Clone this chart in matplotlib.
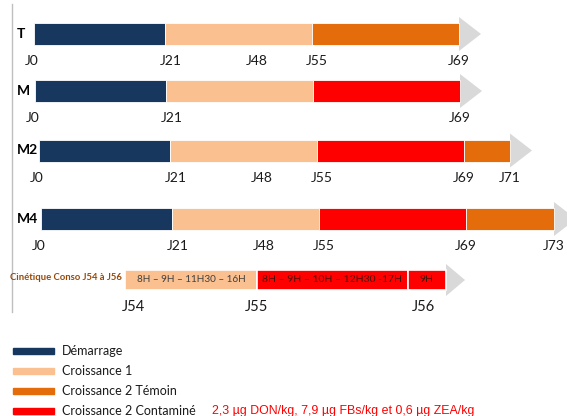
import numpy as np
import matplotlib
matplotlib.use('Agg')
import matplotlib.pyplot as plt
import matplotlib.transforms as mtransforms
from matplotlib.patches import Rectangle

# phases and their colours
phases = ['Démarrage', 'Croissance 1', 'Croissance 2 Témoin', 'Croissance 2 Contaminé']
phase_colors = ['#17375e', '#fac090', '#e46c0a', '#ff0000']

# one row per batch: day boundaries, phase of each segment, day labels
rows = ['T', 'M', 'M2', 'M4']
row_days = [[0, 21, 55, 69], [0, 21, 55, 69], [0, 21, 55, 69, 71], [0, 21, 55, 69, 73]]
row_phases = [
    ['Démarrage', 'Croissance 1', 'Croissance 2 Témoin'],
    ['Démarrage', 'Croissance 1', 'Croissance 2 Contaminé'],
    ['Démarrage', 'Croissance 1', 'Croissance 2 Contaminé', 'Croissance 2 Témoin'],
    ['Démarrage', 'Croissance 1', 'Croissance 2 Contaminé', 'Croissance 2 Témoin'],
]
row_ticks = [[0, 21, 48, 55, 69], [0, 21, 69], [0, 21, 48, 55, 69, 71], [0, 21, 48, 55, 69, 73]]

# consumption kinetics J54 -> J56
kin_days = [54, 55, 56, 56.25]
kin_phases = ['Croissance 1', 'Croissance 2 Contaminé', 'Croissance 2 Contaminé']
kin_hours = ['8H – 9H – 11H30 – 16H', '8H – 9H – 10H – 12H30 -17H', '9H']
kin_ticks = [54, 55, 56]
kin_title = 'Cinétique Conso J54 à J56'
dose_note = '2,3 µg DON/kg, 7,9 µg FBs/kg et 0,6 µg ZEA/kg'

color_of = dict(zip(phases, phase_colors))
W, H = 567, 416
FONT = 'Lato'
TXT = '#1a1a1a'

# schematic (non linear) day axis
day_anchor = [-5, 0, 21, 48, 55, 69, 71, 73, 76]
px_anchor = [0, 34, 165, 257, 312, 459, 505, 547, 567]
kin_anchor = [52, 54, 55, 56, 56.25, 58]
kin_px = [0, 125, 257, 408, 446, 567]


def make_scale(d, p):
    def fwd(x):
        return np.interp(x, d, p)

    def inv(x):
        return np.interp(x, p, d)
    return fwd, inv


fig = plt.figure(figsize=(W / 100, H / 100), dpi=100)
fig.patch.set_facecolor('white')

ax_px = fig.add_axes([0, 0, 1, 1])
ax_px.set_xlim(0, W)
ax_px.set_ylim(H, 0)
ax_px.axis('off')

ax = fig.add_axes([0, 0, 1, 1])
fwd, inv = make_scale(day_anchor, px_anchor)
ax.set_xscale('function', functions=(fwd, inv))
ax.set_xlim(day_anchor[0], day_anchor[-1])
ax.set_ylim(H, 0)
ax.axis('off')

axk = fig.add_axes([0, 0, 1, 1])
kfwd, kinv = make_scale(kin_anchor, kin_px)
axk.set_xscale('function', functions=(kfwd, kinv))
axk.set_xlim(kin_anchor[0], kin_anchor[-1])
axk.set_ylim(H, 0)
axk.axis('off')

# left border line
ax_px.plot([12, 12], [4, 312], color='#bfbfbf', lw=1)

# main rows
row_y = [34, 91, 150.5, 219]
row_shift = [0, 1, 5, 7]
label_dx = {0: -2, 21: 6, 55: 5}
bar_h = 22
for name, days, ph, ticks, y, sh in zip(rows, row_days, row_phases, row_ticks, row_y, row_shift):
    trans = ax.transData + mtransforms.ScaledTranslation(sh / 100, 0, fig.dpi_scale_trans)
    starts = np.array(days[:-1])
    widths = np.diff(days)
    ax.barh(y, widths, left=starts, height=bar_h, color=[color_of[p] for p in ph],
            edgecolor='white', linewidth=0.6, transform=trans, zorder=3)
    end = fwd(days[-1]) + sh
    ax_px.fill([end, end + 22, end], [y - 17, y, y + 17], color='#d9d9d9', lw=0, zorder=1)
    ax_px.text(17, y, name, ha='left', va='center', fontsize=10, fontweight='bold',
               family=FONT, color='black')
    for d in ticks:
        ax_px.text(fwd(d) + sh + label_dx.get(d, 0), y + 27, 'J%d' % d, ha='center',
                   va='center', fontsize=10, family=FONT, color=TXT)

# kinetics row
ky = 280
starts = np.array(kin_days[:-1])
widths = np.diff(kin_days)
axk.barh(ky, widths, left=starts, height=20, color=[color_of[p] for p in kin_phases],
         edgecolor='white', linewidth=1.2, zorder=3)
kend = kfwd(kin_days[-1])
ax_px.fill([kend, kend + 19, kend], [ky - 16, ky, ky + 16], color='#d9d9d9', lw=0, zorder=1)
kin_fs = [7.2, 7.5, 7.5]
for s, w, txt, p, fs in zip(starts, widths, kin_hours, kin_phases, kin_fs):
    c = '#404040' if p == 'Croissance 1' else '#4a1208'
    axk.text(s + w / 2, ky, txt, ha='center', va='center', fontsize=fs,
             family=FONT, color=c, zorder=4)
ax_px.text(10, ky - 2, kin_title, ha='left', va='center', fontsize=6.8, fontweight='bold',
           family=FONT, color='#984807')
kin_tick_x = [kfwd(kin_ticks[0]) + 8, kfwd(kin_ticks[1]), kfwd(kin_ticks[2]) + 15]
for d, xk in zip(kin_ticks, kin_tick_x):
    ax_px.text(xk, 307, 'J%d' % d, ha='center', va='center', fontsize=10.5,
               family=FONT, color=TXT)

# legend
leg_y = [351, 371, 391, 411]
for p, c, yl in zip(phases, phase_colors, leg_y):
    ax_px.add_patch(Rectangle((13, yl - 3), 41, 6, color=c))
    ax_px.text(62, yl, p, ha='left', va='center', fontsize=9, family=FONT, color=TXT)
ax_px.text(212, leg_y[-1], dose_note, ha='left', va='center', fontsize=8.9,
           family='Liberation Sans', color='#ff0000')

fig.savefig('out.png', dpi=100)
